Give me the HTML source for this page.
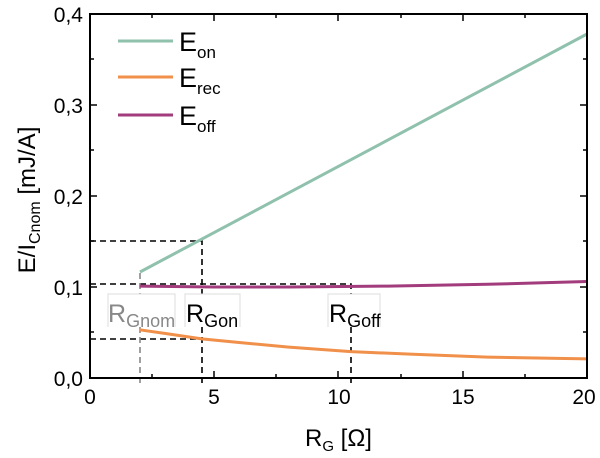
<html><body style="margin:0;background:#fff">
<svg width="600" height="458" xmlns="http://www.w3.org/2000/svg" font-family="Liberation Sans, sans-serif">
<rect width="600" height="458" fill="#fff"/>
<g stroke="#000" stroke-width="1.6" stroke-dasharray="6,4" fill="none">
<path d="M90,241 H202 V294 M202,327 V387"/>
<path d="M90,284 H351 V294 M351,327 V387"/>
<path d="M90,339 H202"/>
</g>
<path d="M140,273 V294 M140,327 V387" stroke="#888" stroke-width="1.6" stroke-dasharray="6,4" fill="none"/>
<g stroke-width="3" fill="none">
<path d="M140,272 L587,34" stroke="#8fc1ad"/>
<polyline points="139.7,286.1 214.3,287 288.8,287 388.2,286.1 487.6,284.3 587,281.5" stroke="#a23c7c"/>
<polyline points="139.7,329.8 164.6,333.4 201.8,338.9 239.1,342.5 288.8,347.1 350.9,351.6 413,354.3 487.6,357.1 587,358.9" stroke="#f0904a"/>
</g>
<g fill="#fff" stroke="#ddd" stroke-width="1">
<path d="M108,327 V294 H175 V327"/>
<path d="M185,327 V294 H240 V327"/>
<path d="M328,327 V294 H380 V327"/>
</g>
<text x="108" y="322" font-size="25" fill="#888">R<tspan font-size="18" dy="5">Gnom</tspan></text>
<text x="186" y="322" font-size="25">R<tspan font-size="18" dy="5">Gon</tspan></text>
<text x="329" y="322" font-size="25">R<tspan font-size="18" dy="5">Goff</tspan></text>
<rect x="90" y="14" width="497" height="364" fill="none" stroke="#000" stroke-width="2"/>
<g stroke="#000" stroke-width="1.5">
<path d="M214,378v-7M338,378v-7M463,378v-7M152,378v-4M276,378v-4M401,378v-4M525,378v-4"/>
<path d="M214,14v7M338,14v7M463,14v7M152,14v4M276,14v4M401,14v4M525,14v4"/>
<path d="M90,287h7M90,196h7M90,105h7M90,332h4M90,241h4M90,150h4M90,59h4"/>
<path d="M587,287h-7M587,196h-7M587,105h-7M587,332h-4M587,241h-4M587,150h-4M587,59h-4"/>
</g>
<g font-size="21" text-anchor="middle">
<text x="90" y="404">0</text><text x="214" y="404">5</text><text x="339" y="404">10</text><text x="463" y="404">15</text><text x="584" y="404">20</text>
</g>
<g font-size="21" text-anchor="end">
<text x="83" y="386">0,0</text><text x="83" y="295">0,1</text><text x="83" y="204">0,2</text><text x="83" y="113">0,3</text><text x="83" y="22">0,4</text>
</g>
<text x="305" y="446" font-size="24">R<tspan font-size="15" dy="5">G</tspan><tspan dy="-5"> [Ω]</tspan></text>
<text transform="translate(35,200) rotate(-90)" font-size="24" text-anchor="middle">E/I<tspan font-size="16" dy="5">Cnom</tspan><tspan dy="-5"> [mJ/A]</tspan></text>
<g stroke-width="3">
<path d="M118,41H173" stroke="#8fc1ad"/><path d="M118,77H173" stroke="#f0904a"/><path d="M118,115H173" stroke="#a23c7c"/>
</g>
<g font-size="27">
<text x="179" y="51">E<tspan font-size="17" dy="7">on</tspan></text>
<text x="179" y="87">E<tspan font-size="17" dy="7">rec</tspan></text>
<text x="179" y="125">E<tspan font-size="17" dy="7">off</tspan></text>
</g>
</svg>
</body></html>
